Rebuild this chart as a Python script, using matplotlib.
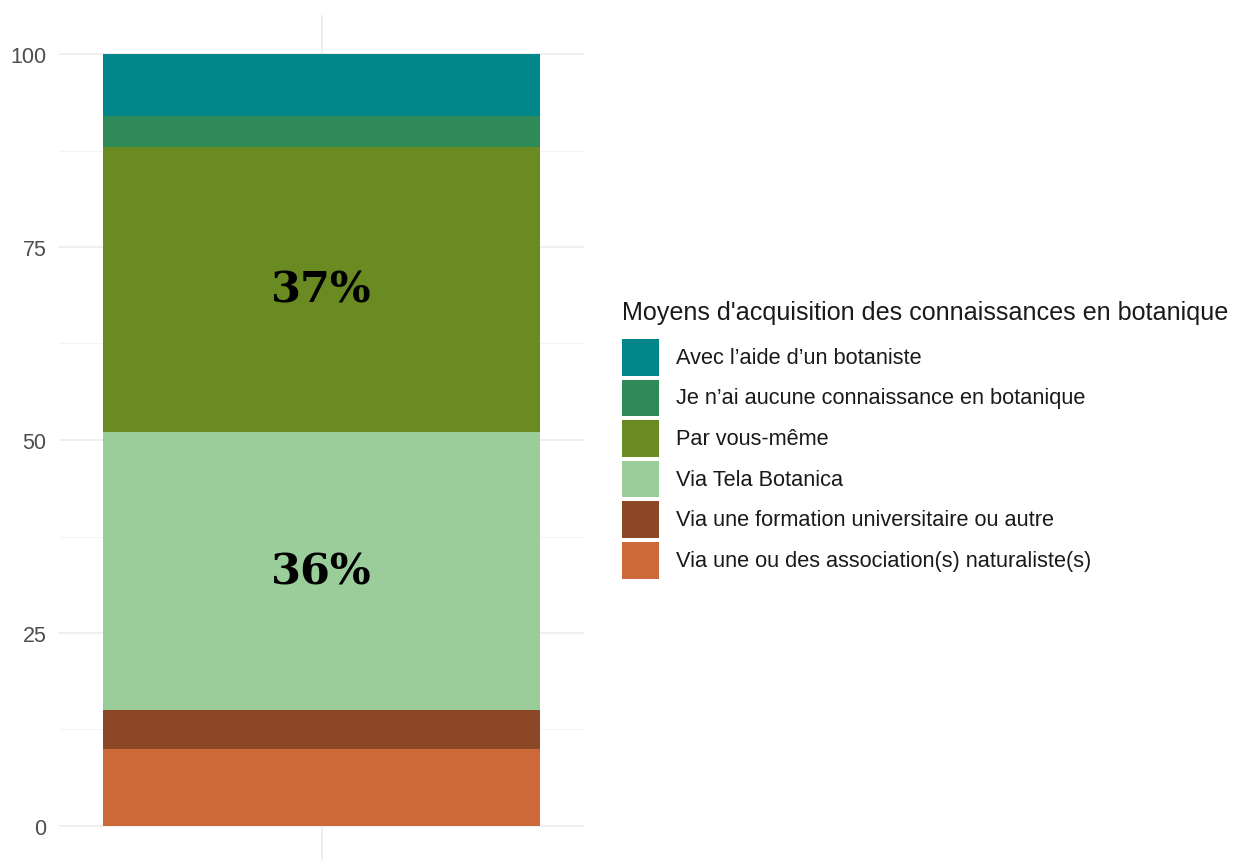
import matplotlib
matplotlib.use("Agg")
import matplotlib.pyplot as plt
from matplotlib.patches import Rectangle
from matplotlib.transforms import Affine2D
import numpy as np

# Data (stacking order bottom -> top)
categories = [
    "Via une ou des association(s) naturaliste(s)",
    "Via une formation universitaire ou autre",
    "Via Tela Botanica",
    "Par vous-même",
    "Je n\u2019ai aucune connaissance en botanique",
    "Avec l\u2019aide d\u2019un botaniste",
]
values = [10, 5, 36, 37, 4, 8]
colors = ["#CD6839", "#8B4726", "#9BCD9B", "#698B22", "#2E8B57", "#00868B"]
label_threshold = 20
legend_title = "Moyens d'acquisition des connaissances en botanique"
yticks = [0, 25, 50, 75, 100]

plt.rcParams['font.family'] = ['Liberation Sans', 'DejaVu Sans']

W, H = 1234, 862
fig = plt.figure(figsize=(W / 100, H / 100), dpi=100)
# panel in pixel coords
px_left, px_right = 59, 584
px_top, px_bottom = 16.4, 865.6
ax = fig.add_axes([px_left / W, 1 - px_bottom / H, (px_right - px_left) / W, (px_bottom - px_top) / H])

ax.set_xlim(-0.6, 0.6)
ax.set_ylim(-5, 105)

# grid
for y in yticks:
    ax.axhline(y, color="#EBEBEB", lw=1.1, zorder=0)
for y in np.arange(12.5, 100, 25):
    ax.axhline(y, color="#F2F2F2", lw=0.6, zorder=0)
ax.axvline(0, color="#EBEBEB", lw=1.1, zorder=0)

bottom = 0
for cat, v, c in zip(categories, values, colors):
    ax.bar(0, v, width=1.0, bottom=bottom, color=c, edgecolor="none", zorder=2)
    if v > label_threshold:
        ax.text(0, bottom + v / 2, f"{v}%", ha="center", va="center",
                fontsize=31, fontweight="bold", family="DejaVu Serif",
                color="black", zorder=3)
    bottom += v

for s in ax.spines.values():
    s.set_visible(False)
ax.set_xticks([])
ax.set_yticks(yticks)
ax.set_yticklabels([str(t) for t in yticks])
ax.tick_params(axis="y", length=0, labelsize=15.5, labelcolor="#4D4D4D", pad=9)

# Manual legend, positioned in pixel coordinates (top-left origin, y downward)
pix = Affine2D().scale(1 / W, -1 / H).translate(0, 1) + fig.transFigure
leg_x, title_y = 622, 313
key_top0, key_step, key_w, key_h = 340, 40.6, 37, 36.5
text_x = 675.5
fig.text(leg_x, title_y, legend_title, transform=pix, ha="left", va="center",
         fontsize=18.1, color="#1A1A1A")
for i, (lab, c) in enumerate(zip(categories[::-1], colors[::-1])):
    top = key_top0 + i * key_step
    fig.patches.append(Rectangle((leg_x, top), key_w, key_h, transform=pix,
                                 facecolor=c, edgecolor="none"))
    fig.text(text_x, top + key_h / 2, lab, transform=pix, ha="left", va="center",
             fontsize=15.65, color="#1A1A1A")

fig.savefig("out.png", dpi=100, facecolor="white")
